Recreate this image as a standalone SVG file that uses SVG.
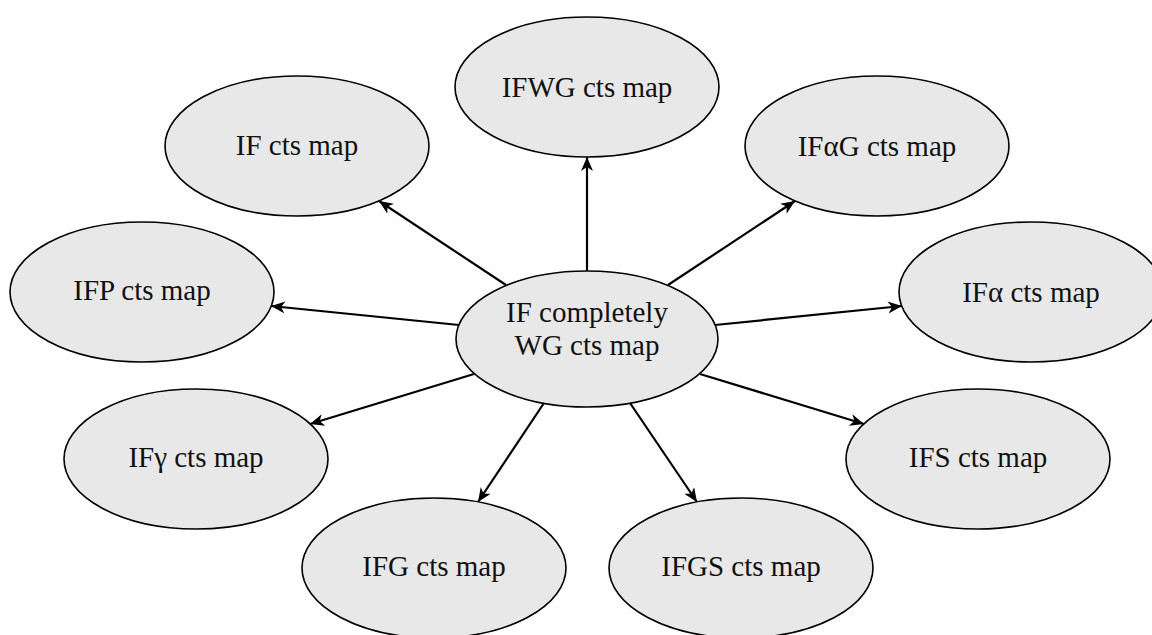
<svg xmlns="http://www.w3.org/2000/svg" width="1152" height="635" viewBox="0 0 1152 635">
<style>
.node ellipse{fill:#e8e8e8;stroke:#000;stroke-width:1.6}
.node text{font-family:"Liberation Serif","Times New Roman",serif;font-size:29px;fill:#111;text-anchor:middle}
.edges line{stroke:#000;stroke-width:2.2;marker-end:url(#arr)}
</style>
<defs>
<marker id="arr" markerUnits="userSpaceOnUse" markerWidth="16" markerHeight="14" refX="14" refY="6" orient="auto">
<path d="M0,0 L14,6 L0,12 L4,6 z" fill="#000"/>
</marker>
</defs>
<rect width="1152" height="635" fill="#fff"/>
<g class="node" id="n-ifwg"><ellipse cx="587" cy="87" rx="132" ry="70"/><text x="587" y="97">IFWG cts map</text></g>
<g class="node" id="n-if"><ellipse cx="297" cy="146" rx="132" ry="70"/><text x="297" y="155">IF cts map</text></g>
<g class="node" id="n-ifag"><ellipse cx="877" cy="146" rx="132" ry="70"/><text x="877" y="156">IFαG cts map</text></g>
<g class="node" id="n-ifp"><ellipse cx="142" cy="292" rx="132" ry="70"/><text x="142" y="300">IFP cts map</text></g>
<g class="node" id="n-ifa"><ellipse cx="1031" cy="292" rx="132" ry="70"/><text x="1031" y="302">IFα cts map</text></g>
<g class="node" id="n-center"><ellipse cx="587" cy="339" rx="131" ry="68"/><text x="587" y="322">IF completely</text><text x="587" y="355">WG cts map</text></g>
<g class="node" id="n-ifgamma"><ellipse cx="196" cy="459" rx="132" ry="70"/><text x="196" y="467">IFγ cts map</text></g>
<g class="node" id="n-ifs"><ellipse cx="978" cy="459" rx="132" ry="70"/><text x="978" y="467">IFS cts map</text></g>
<g class="node" id="n-ifg"><ellipse cx="434" cy="568" rx="132" ry="70"/><text x="434" y="576">IFG cts map</text></g>
<g class="node" id="n-ifgs"><ellipse cx="741" cy="568" rx="132" ry="70"/><text x="741" y="576">IFGS cts map</text></g>
<g class="edges" id="connectors">
<line x1="506" y1="285" x2="379" y2="201"/>
<line x1="587" y1="271" x2="587" y2="157"/>
<line x1="668" y1="285" x2="795" y2="201"/>
<line x1="459" y1="325" x2="271" y2="306"/>
<line x1="715" y1="325" x2="902" y2="306"/>
<line x1="474" y1="374" x2="310" y2="424"/>
<line x1="700" y1="374" x2="864" y2="424"/>
<line x1="544" y1="403" x2="478" y2="502"/>
<line x1="630" y1="403" x2="697" y2="502"/>
</g>
</svg>
